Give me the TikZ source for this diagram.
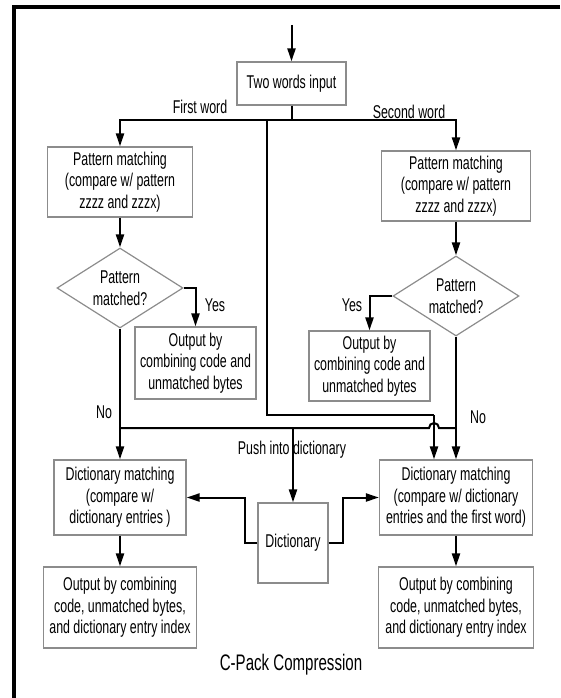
\documentclass[tikz,border=0pt]{standalone}
\usepackage{fontspec}
\setmainfont[FakeStretch=0.67]{Liberation Sans}
\usetikzlibrary{positioning,calc,arrows.meta,shapes.geometric}

\begin{document}
\begin{tikzpicture}[x=1pt,y=-1pt,
  font=\fontsize{18.5}{21.5}\selectfont,
  box/.style={draw=black!45,line width=1.2pt,align=center,inner sep=1.5pt},
  test/.style={diamond,draw=black!45,line width=1.2pt,align=center,
    inner sep=-1.5pt,aspect=1.575,minimum width=126pt,minimum height=80pt},
  arr/.style={line width=2pt,-{Triangle[length=13pt,width=8pt]}},
  ln/.style={line width=2pt}]
\useasboundingbox (0,0) rectangle (560,698);
% Frame
\draw[line width=3.3pt] (560,7) -- (14,7) -- (14,698);
% Input
\node[box,minimum width=109pt,minimum height=43pt] (in) at (291.5,83.5) {Two words input};
\node (w1) at (200,107) {First word};
\node (w2) at (409,112) {Second word};
% Pattern matching of both words
\node[box,minimum width=145pt,minimum height=70pt] (pm1) at (120,182) {Pattern matching\\(compare w/ pattern\\zzzz and zzzx)};
\node[box,minimum width=149pt,minimum height=70pt] (pm2) at (456,186) {Pattern matching\\(compare w/ pattern\\zzzz and zzzx)};
\node[test] (pd1) at (120,288) {Pattern\\matched?};
\node[test] (pd2) at (456,296) {Pattern\\matched?};
\node[box,minimum width=121pt,minimum height=72pt] (out1) at (195.5,363) {Output by\\combining code and\\unmatched bytes};
\node[box,minimum width=121pt,minimum height=70pt] (out2) at (369.5,366) {Output by\\combining code and\\unmatched bytes};
\node (y1) at (215,305) {Yes};
\node (y2) at (352,305) {Yes};
\node (n1) at (104,412) {No};
\node (n2) at (478,417) {No};
% Dictionary part
\node (push) at (292,450) {Push into dictionary};
\node[box,minimum width=132pt,minimum height=75pt] (dm1) at (120,497.5) {Dictionary matching\\(compare w/\\dictionary entries )};
\node[box,minimum width=153pt,minimum height=75pt] (dm2) at (456,497.5) {Dictionary matching\\(compare w/ dictionary\\entries and the first word)};
\node[box,minimum width=70pt,minimum height=80pt] (dict) at (293,543) {Dictionary};
\node[box,minimum width=153pt,minimum height=81pt] (res1) at (120,607.5) {Output by combining\\code, unmatched bytes,\\and dictionary entry index};
\node[box,minimum width=155pt,minimum height=81pt] (res2) at (456,607.5) {Output by combining\\code, unmatched bytes,\\and dictionary entry index};
\node[font=\fontsize{22.5}{26}\selectfont] (title) at (291,665) {C-Pack Compression};
% Split the input
\coordinate (src) at (291.5,25);
\draw[arr] (src) -- (in);
\draw[ln] (in.south) -- ++(0,14.5) coordinate (split);
\draw[arr] (split) -| (pm1.north);
\draw[arr] (split) -| (pm2.north);
% First word goes on to the second matcher
\coordinate (tap) at (267,120);
\coordinate (turn) at (434,415);
\draw[ln] (tap) |- (turn);
\draw[arr] (turn) -- (turn |- dm2.north);
% Pattern tests
\draw[arr] (pm1) -- (pd1);
\draw[arr] (pm2) -- (pd2);
\draw[arr] (pd1.east) -| (out1.north);
\draw[arr] (pd2.west) -| (out2.north);
\draw[arr] (pd1.south) -- (dm1.north);
\draw[arr] (pd2.south) -- (dm2.north);
% Cross line with a hop over the first-word line
\draw[ln] (pd1.south |- 0,428) -- (429,428) arc[start angle=180,end angle=360,radius=5] -- (pd2.south |- 0,428);
\draw[arr] (dict.north |- 0,428) -- (dict.north);
% Dictionary feeds both matchers
\draw[arr] (dict.west) -- ++(-12,0) |- (dm1.east);
\draw[arr] (dict.east) -- ++(14,0) |- (dm2.west);
% Outputs
\draw[arr] (dm1) -- (res1);
\draw[arr] (dm2) -- (res2);
\end{tikzpicture}
\end{document}
